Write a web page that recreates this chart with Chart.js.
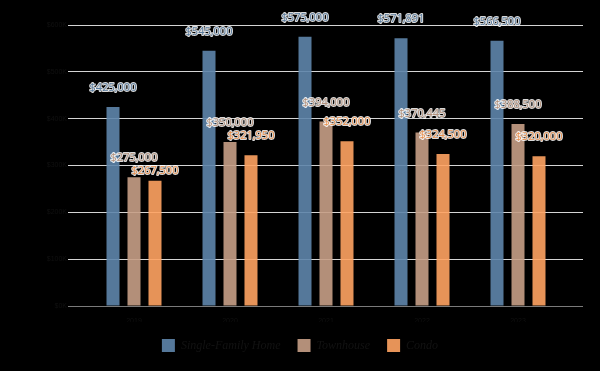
<!DOCTYPE html>
<html>
<head>
<meta charset="utf-8">
<script src="https://cdn.jsdelivr.net/npm/chart.js@4.4.0/dist/chart.umd.min.js"></script>
<style>
  html, body { margin: 0; padding: 0; background: #000; }
  canvas { display: block; }
</style>
</head>
<body>
<canvas id="grafica" width="600" height="371"></canvas>
<script>
const categorias = ['2019', '2020', '2021', '2022', '2023'];
const casas = [425000, 545000, 575000, 571891, 566500];
const townhouses = [275000, 350000, 394000, 370445, 388500];
const condos = [267500, 321950, 352000, 324500, 320000];
const series = ['Single-Family Home', 'Townhouse', 'Condo'];

const azul = 'rgba(94,133,171,0.9)';
const cafe = 'rgba(198,158,134,0.9)';
const naranja = 'rgba(255,163,98,0.9)';
const textoColores = ['#5a7c9e', '#b3917c', '#e8914f'];

const formato = v => '$' + v.toLocaleString('en-US');

// etiquetas sobre cada barra, con contorno blanco
const etiquetas = {
    id: 'etiquetas',
    afterDatasetsDraw(chart) {
        const ctx = chart.ctx;
        ctx.save();
        ctx.font = '11px "Open Sans"';
        ctx.textAlign = 'center';
        ctx.textBaseline = 'middle';
        ctx.lineJoin = 'round';
        ctx.lineWidth = 2;
        ctx.strokeStyle = 'rgba(255,255,255,0.85)';
        const usadas = {};
        chart.data.datasets.forEach((ds, i) => {
            const meta = chart.getDatasetMeta(i);
            meta.data.forEach((bar, j) => {
                const texto = formato(ds.data[j]);
                const w = ctx.measureText(texto).width;
                let y = bar.y - 19;
                const previas = usadas[j] || (usadas[j] = []);
                previas.forEach(p => {
                    if (Math.abs(p.x - bar.x) < (p.w + w) / 2 && Math.abs(p.y - y) < 13) {
                        y = p.y + 13;
                    }
                });
                previas.push({x: bar.x, y: y, w: w});
                ctx.strokeText(texto, bar.x, y);
                ctx.fillStyle = textoColores[i];
                ctx.fillText(texto, bar.x, y);
            });
        });
        ctx.restore();
    }
};

const colorLinea = c => c.tick && c.tick.value === 0 ? '#7a7a7a' : '#d4d4d4';

new Chart(document.getElementById('grafica'), {
    type: 'bar',
    data: {
        labels: categorias,
        datasets: [
            { label: series[0], data: casas, backgroundColor: azul, borderWidth: 0 },
            { label: series[1], data: townhouses, backgroundColor: cafe, borderWidth: 0 },
            { label: series[2], data: condos, backgroundColor: naranja, borderWidth: 0 }
        ]
    },
    options: {
        responsive: false,
        animation: false,
        categoryPercentage: 0.656,
        barPercentage: 0.62,
        layout: { padding: { top: 25, left: 0, right: 0, bottom: 9 } },
        scales: {
            x: {
                grid: { display: false },
                border: { display: false },
                ticks: { color: '#101010', font: { size: 7 }, padding: 3 },
                afterFit: axis => { axis.height = 16; }
            },
            y: {
                min: 0,
                max: 600000,
                ticks: {
                    stepSize: 100000,
                    color: '#101010',
                    font: { size: 7 },
                    padding: 1,
                    callback: v => '$' + (v / 1000) + 'K'
                },
                grid: { color: colorLinea, tickColor: colorLinea, tickLength: 18 },
                border: { display: false },
                afterFit: axis => { axis.width = 86; }
            },
            y2: {
                position: 'right',
                min: 0,
                max: 600000,
                ticks: { stepSize: 100000, display: false },
                grid: { drawOnChartArea: false, color: colorLinea, tickColor: colorLinea, tickLength: 17 },
                border: { display: false },
                afterFit: axis => { axis.width = 34; }
            }
        },
        plugins: {
            legend: {
                position: 'bottom',
                labels: {
                    boxWidth: 13,
                    boxHeight: 13,
                    padding: 17,
                    color: '#121212',
                    font: { family: '"Liberation Serif"', style: 'italic', size: 12 }
                }
            },
            tooltip: { enabled: false }
        }
    },
    plugins: [etiquetas]
});
</script>
</body>
</html>
